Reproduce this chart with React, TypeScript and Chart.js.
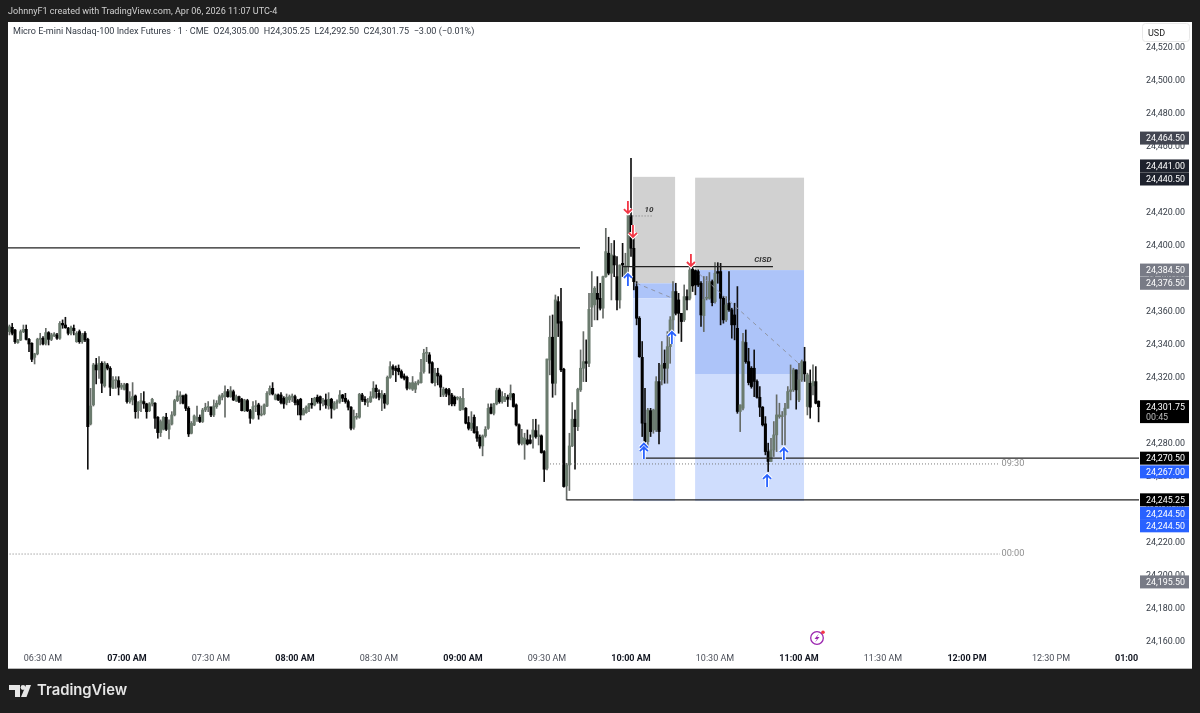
import React, { useEffect, useRef } from "react";
import { Chart, registerables } from "chart.js";

Chart.register(...registerables);

// Prices are stored as points above 24,000.
const PRICE_BASE = 24000;
const FIRST_MINUTE = -12; // minutes relative to 06:30 AM

const opens = [
347.2,349.8,348.2,340.5,342.1,347.2,348.6,342.5,340.1,331.6,
333.7,342.5,343.2,340.1,346.6,342.5,344.6,345.2,343.2,352.2,
351.2,349.2,346.2,349.2,341.1,347.2,341.1,346.2,342.5,291.2,
302.8,327,324,328,314.3,327,325,312.8,317.5,317.5,
313.5,312.2,315.5,304.8,305.8,308.2,299.3,304.2,304.8,303.4,
299.3,303.4,303.8,295.3,286,288,295.3,288,291.2,296.7,
305.4,307.8,308.2,308.8,300.7,285.6,290.6,294.1,295.3,292.7,
299.7,301.3,301.3,296.7,301.7,303.4,307.4,307.8,310.8,307.8,
310.8,305.4,307.8,306.2,299.3,305.4,299.3,294.7,301.7,302.8,
296.7,297.3,302.1,309.8,312.8,306.2,308.8,308.8,306.8,304.2,
305.8,307.4,307.8,305.4,306.2,296.7,298.1,300.7,303.8,302.8,
307.4,307.8,304.8,305.8,302.2,306.2,300.2,303.8,304.8,308.8,
306.8,304.8,301.4,289.2,295.3,295.3,308.8,306.2,304.2,304.8,
307.4,312.9,309.8,306.8,308.8,303.4,319.5,326,325,325,
323,320.3,319.5,312.9,312.3,312.3,315.9,316.3,323,334.1,
333.1,328.4,316.3,322,320.3,308.8,312.3,311.9,308.8,307.4,
306.8,299.7,300.2,300.7,292.1,288.6,295.3,286.6,283.2,277.9,
284,288.6,301.4,297.7,303.4,311.9,304.8,305.8,307.4,307.4,
309.4,302.8,290.7,279.5,279.1,281.6,281.6,283.2,287.2,283.6,
284,274.5,264.4,330,343.8,315.9,365.4,353.3,324.4,253.7,
266.4,277.9,294.1,289.6,311.9,325,329,328,362,363.4,
370.4,367.4,361.4,380.5,394.7,382.6,393.1,380.5,366.4,388.6,
380.5,386.6,417.5,397.7,374.5,355.3,331.6,291.7,280.5,299.3,
287.6,287.6,316.9,317.9,328,325,338.1,354.3,371.5,366.4,
358.3,354.3,368.4,367.4,385,384.2,383.6,376.5,356.9,367.4,
367.4,377.5,365.4,383.6,383.6,367.4,354.3,364.4,360.4,357.3,
349.2,298.8,300.8,340.6,329,325,325,317,307.4,301.4,
291.3,274.5,268.5,275.5,284.6,295.7,295.7,296.7,300.8,310.9,
311.9,324,305.8,318,329,301.8,315.9,314.3,316.9,305,
];
const closes = [
350.2,346.2,341.1,342.1,347.2,348.6,342.5,339.7,330.4,333.7,
342.5,343.2,339.7,346.6,342.5,345.2,345.8,343.2,352.2,351.2,
349.6,346.2,349.8,347.8,346.2,341.1,345.2,342.1,289.6,302.1,
327,324,328,315.9,328,325,313.5,317.5,317.9,313.5,
314.7,314.9,304.8,306.8,307.8,298.7,304.2,305.4,303.4,298.7,
303.4,306.2,294.7,286,292.7,295.3,288,291.2,296.7,305.4,
308.2,308.8,303.8,300.7,285.2,291.6,296.1,295.3,292.7,299.7,
301.3,301.7,296.7,302.1,303.8,307.8,308.8,310.8,307.8,311.4,
305.8,307.8,304.8,299.3,305.4,299.3,294.7,301.7,302.1,296.7,
297.3,302.8,309.8,312.8,309.4,308.8,305.8,304.2,303.4,307.4,
307.8,308.2,304.2,302.8,296.7,299.7,301.4,303.4,302.8,306.8,
304.8,303.8,304.8,302.8,306.2,300.7,303.8,304.8,308.8,306.8,
304.8,301.4,288.6,295.7,295.7,309.2,305.8,304.8,304.8,307.8,
312.9,310.8,307.4,309.4,303.8,319.5,326,324.4,323.6,323,
319.5,318.9,312.9,315.9,316.3,315.9,316.9,322.4,334.1,334.5,
328,316.3,322,320.3,313.5,312.3,309.8,308.8,303.4,303.4,
306.8,306.8,306.8,291.7,288.6,291.7,286,282.6,277.9,284,
288,300.7,297.7,303.4,311.5,304.8,307.8,307.8,306.2,309.8,
301.8,290.7,279.5,283.2,282.6,279.1,279.5,287.6,283.6,284.6,
273.9,263.8,330.6,343.8,315.9,366.4,352.3,324,253.3,266.4,
277.9,294.1,289.6,312.3,325,329,328,360.7,370.4,373.5,
366.8,361.4,380.5,395.7,382.6,393.7,387.6,366.4,387.6,387.6,
387,417.7,397.7,377.5,355.3,332,291.7,280.5,299.7,286.6,
299.7,316.9,286.6,327,325,338.1,354.3,371.5,358.3,358.3,
353.3,368.4,366.4,384.6,374.9,375.5,375.5,357.3,366.8,367.4,
377.5,364.8,382.6,382.6,367.4,354.3,363.4,360.4,351.3,351.3,
298.8,302.8,341.2,329,316.3,313.9,317,307.4,301.4,290.7,
274.5,268.5,275.5,284.6,296.7,296.7,296.1,300.8,310.9,311.9,
324,311.9,318,329,321.6,321,301.4,316.9,303.8,301.75,
];
const highs = [
351.2,352.2,348.6,342.5,348.2,351.2,351.2,343.2,340.5,334.1,
343.2,346.2,344.2,349.2,347.2,346.2,346.6,346.2,353.3,354.3,
355.9,349.8,350.6,351.2,347.2,348.2,346.2,347.2,343.2,312.8,
328,331,332,329,329,328,326,319.9,319.9,319.9,
315.9,315.9,315.9,310.8,316.3,308.8,304.8,309.8,310.8,303.8,
304.2,306.8,304.2,295.7,293.7,295.7,297.7,293.7,298.7,306.2,
311.4,310.8,308.8,309.4,301.7,292.7,296.7,302.1,296.7,300.7,
303.8,304.8,301.7,305.8,305.4,308.8,309.8,314.3,312.2,313.9,
311.8,308.8,308.2,306.8,306.2,306.2,300.1,304.8,305.4,303.8,
302.1,303.4,310.8,314.3,316.3,309.4,309.4,310.2,307.8,309.4,
308.8,309.4,308.8,306.2,306.8,300.7,302.2,303.8,306.8,307.4,
308.8,308.2,306.8,309.4,310.2,306.8,304.8,305.8,311.5,309.2,
309.8,305.8,301.8,299.7,297.7,309.8,309.8,307.8,306.8,310.8,
316.9,314.9,311.9,311.5,309.8,320.3,329,327,326.4,327,
324,321.6,320.3,316.3,320,316.9,317.9,330.4,336.5,337.7,
334.5,329,325,325,321,313.5,312.9,312.9,309.8,308.2,
307.8,307.8,312.9,301.2,295.7,298.7,296.7,289.6,284.6,284.6,
289.6,303.4,303.4,303.8,312.9,312.9,310.8,309.8,308.8,314.9,
309.8,303.4,291.3,288,285.6,287.6,284.6,294.1,294.1,290.7,
284.6,275.1,330.6,356.7,357.3,369.4,368.4,373.5,325,267.4,
285.6,304.2,299.7,312.9,336.1,347.2,342.2,370.4,383.6,374.5,
380.5,376.5,380.9,409.8,404.4,400.7,402.4,392.7,387.6,400.7,
394.7,417.7,452.3,404.4,377.5,356.3,341.2,312.9,300.7,300.7,
300.2,319.9,328,341.2,336.1,347.2,356.3,377.5,376.5,370.4,
358.3,375.5,372.5,387,387,384.6,384.6,377.5,380.6,380.6,
383,378.5,389,389,388.6,368.4,368.4,383.6,361.4,364.4,
374.5,302.8,346.2,348.2,337.1,326,336.1,318,313.9,301.8,
295.7,279.6,282.6,292.7,308.9,303.8,298.8,303.8,313.9,327,
325,324,328,330,337.7,322,324,327,326,305.25,
];
const lows = [
345.2,345.2,340.1,340.1,341.7,346.6,342.1,335.1,329,327.6,
333.1,339.1,339.1,339.1,339.1,341.7,344.2,342.5,342.5,349.2,
349.2,345.2,345.2,345.2,340.7,340.1,340.1,341.1,263.8,290.6,
302.1,315.5,318.9,310.2,313.5,324,308.4,312.8,312.8,308.8,
312.2,311.8,303.8,303.8,302.8,294.7,294.7,298.7,300.7,294.7,
298.7,302.1,288.6,282.6,283.6,287.6,287.2,282.1,290.6,296.1,
304.8,303.4,303.4,299.3,283.6,285.2,290.2,292.7,292.1,292.1,
298.7,298.7,295.7,295.7,300.7,302.8,305.8,295.3,307.4,307.4,
305.4,304.8,304.2,299.1,298.7,298.7,291.6,294.1,298.7,294.1,
296.1,296.7,301.7,308.8,308.8,305.8,305.4,303.4,300.7,302.8,
304.2,304.8,302.8,296.7,293.7,296.7,297.7,298.7,300.7,302.2,
303.8,299.7,302.2,300.7,300.2,294.7,299.7,300.7,303.8,304.8,
303.8,299.7,287.6,288,294.1,294.7,304.8,302.8,301.8,304.2,
306.8,306.8,305.8,299.3,300.7,302.8,318.9,321,316.9,321,
318.9,317.9,311.9,312.3,311.5,310.2,314.9,315.9,322,329,
322,315.9,314.3,314.9,307.8,307.8,307.8,302.8,302.2,302.2,
305.8,299.3,299.7,291.3,287.6,287.2,285.6,280.6,276.5,271.9,
283.2,288,297.3,296.7,302.8,303.8,303.8,304.8,301.8,305.8,
301.4,290,278.5,278.5,269.8,278.5,279.1,276.5,282.6,278.5,
273.5,256.3,263.4,321,307.4,308.8,344.2,323,252.9,245.2,
250.9,277.5,263.8,287.2,310.9,316.9,316.9,326,350.2,354.3,
354.3,360.3,355.3,380.1,381.6,366.4,380.5,360.3,361.4,380.5,
379.5,375.5,392.7,372.5,351.3,331.6,283.6,279.9,277.5,283.6,
285.6,286.6,279.1,314.9,315.9,315.9,328,347.2,357.3,346.2,
341.2,353.3,360.4,366.4,371.5,369.5,374.5,350.3,347.2,366.4,
366.8,362.8,364.4,376.5,351.3,352.3,353.3,359.4,343.2,342.2,
297.7,286.6,299.8,328,314.9,312.9,307.8,306.8,295.7,290,
272.5,262.4,268.5,271.5,274.5,294.7,278.6,278.6,300.8,305.8,
310.9,300.2,304.8,317,317,296.7,294.7,308.9,303.4,292.5,
];

// Time axis: value in minutes after 06:30 AM, with its label.
const timeTickValues = [0, 30, 60, 90, 120, 150, 180, 210, 240, 270, 300, 330, 360, 387];
const timeTickLabels = ["06:30 AM", "07:00 AM", "07:30 AM", "08:00 AM", "08:30 AM", "09:00 AM", "09:30 AM", "10:00 AM", "10:30 AM", "11:00 AM", "11:30 AM", "12:00 PM", "12:30 PM", "01:00"];
const timeTickBold = [false, true, false, true, false, true, false, true, false, true, false, true, false, true];

// Position tool boxes: [fromMinute, toMinute, topPrice, bottomPrice, fill]
const zoneBoxes: [number, number, number, number, string][] = [
  [210.75, 225.75, 24441, 24376.5, "#d1d1d1"],
  [210.75, 225.75, 24376.5, 24367.4, "#adc4f9"],
  [210.75, 225.75, 24367.4, 24244.5, "#cfddfd"],
  [232.9, 271.8, 24440.5, 24384.5, "#d1d1d1"],
  [232.9, 271.8, 24384.5, 24321.5, "#adc4f9"],
  [232.9, 271.8, 24321.5, 24244.5, "#cfddfd"],
];
// Solid levels: [fromMinute, toMinute, price]
const solidLevels: [number, number, number][] = [
  [-13, 191.8, 24397.9],
  [187, 392, 24245.25],
  [215, 392, 24270.5],
  [206.8, 260.7, 24386.6],
];
// Dotted levels: [fromMinute, toMinute, price]
const dottedLevels: [number, number, number][] = [
  [180, 341.8, 24267],
  [-13, 341.8, 24212.4],
  [209.5, 217.5, 24417.3],
];
// Dashed diagonals: [m1, p1, m2, p2]
const dashedDiagonals: [number, number, number, number][] = [
  [212, 24376.5, 224, 24368],
  [234.5, 24382, 270.5, 24327],
];
// Text notes: [minute, price, text, font, colour]
const notes: [number, number, string, string, string][] = [
  [216.4, 24420.8, "10", "italic bold 8px Roboto", "#333"],
  [257.1, 24390.6, "CISD", "italic bold 8px Roboto", "#333"],
  [346.4, 24267, "09:30", "9.2px Roboto", "#8f8f8f"],
  [346.4, 24212.4, "00:00", "9.2px Roboto", "#8f8f8f"],
];
const redArrows: [number, number][] = [[208.9, 24422.7], [210.7, 24408.2], [231.4, 24390.6]];
const blueArrows: [number, number, boolean][] = [
  [208.9, 24378.5, false],
  [214.6, 24273.6, true],
  [224.6, 24343.4, false],
  [264.6, 24273, false],
  [258.6, 24256.7, false],
];
// Price-axis tags: [text, centre price, fill, text colour]
const axisTags: [string, number, string, string][] = [
  ["24,464.50", 24464.5, "#434651", "#fff"],
  ["24,441.00", 24447.6, "#1e222d", "#fff"],
  ["24,440.50", 24439.7, "#1e222d", "#fff"],
  ["24,384.50", 24384.5, "#787b86", "#fff"],
  ["24,376.50", 24376.5, "#787b86", "#fff"],
  ["24,270.50", 24270.5, "#000000", "#fff"],
  ["24,267.00", 24262.2, "#2962ff", "#fff"],
  ["24,245.25", 24245.25, "#000000", "#fff"],
  ["24,244.50", 24237.1, "#2962ff", "#fff"],
  ["24,244.50", 24229.5, "#2962ff", "#fff"],
  ["24,195.50", 24195.5, "#787b86", "#fff"],
];
const lastPriceLabel = "24,301.75";
const lastPriceValue = 24301.75;
const countdownLabel = "00:45";
const attribution = "JohnnyF1 created with TradingView.com, Apr 06, 2026 11:07 UTC-4";
const legendText = "Micro E-mini Nasdaq-100 Index Futures · 1 · CME  O24,305.00  H24,305.25  L24,292.50  C24,301.75  −3.00 (−0.01%)";

const UI = "Roboto";
const isBold = (ctx: any) => !!ctx.tick && timeTickBold[timeTickValues.indexOf(ctx.tick.value)];

const chrome = {
  id: "chrome",
  beforeDraw(chart: any) {
    const c = chart.ctx;
    c.save();
    c.fillStyle = "#1e1e1e";
    c.fillRect(0, 0, 1200, 713);
    c.fillStyle = "#ffffff";
    c.fillRect(8, 22, 1184, 646);
    c.fillStyle = "#b8b8b8";
    c.fillRect(8, 668, 1184, 1);
    c.restore();
  },
  beforeDatasetsDraw(chart: any) {
    const c = chart.ctx, X = chart.scales.x, Y = chart.scales.y;
    c.save();
    for (const [a, b, t, d, f] of zoneBoxes) {
      c.fillStyle = f;
      const x = X.getPixelForValue(a), y = Y.getPixelForValue(t);
      c.fillRect(x, y, X.getPixelForValue(b) - x, Y.getPixelForValue(d) - y);
    }
    c.restore();
  },
  afterDatasetsDraw(chart: any) {
    const c = chart.ctx, X = chart.scales.x, Y = chart.scales.y, A = chart.chartArea;
    c.save();
    c.beginPath();
    c.rect(A.left, A.top, A.right - A.left, A.bottom - A.top);
    c.clip();
    c.strokeStyle = "#222";
    c.lineWidth = 1.25;
    for (const [a, b, p] of solidLevels) {
      const y = Y.getPixelForValue(p);
      c.beginPath();
      c.moveTo(X.getPixelForValue(a), y);
      c.lineTo(X.getPixelForValue(b), y);
      c.stroke();
    }
    c.lineWidth = 1;
    c.strokeStyle = "#7a7a7a";
    c.setLineDash([1, 2]);
    for (const [a, b, p] of dottedLevels) {
      const y = Y.getPixelForValue(p);
      c.beginPath();
      c.moveTo(X.getPixelForValue(a), y);
      c.lineTo(X.getPixelForValue(b), y);
      c.stroke();
    }
    c.strokeStyle = "#8f95a5";
    c.setLineDash([4, 4]);
    for (const [m1, p1, m2, p2] of dashedDiagonals) {
      c.beginPath();
      c.moveTo(X.getPixelForValue(m1), Y.getPixelForValue(p1));
      c.lineTo(X.getPixelForValue(m2), Y.getPixelForValue(p2));
      c.stroke();
    }
    c.setLineDash([]);
    c.textAlign = "center";
    c.textBaseline = "middle";
    for (const [m, p, t, f, col] of notes) {
      c.font = f;
      c.fillStyle = col;
      c.fillText(t, X.getPixelForValue(m), Y.getPixelForValue(p));
    }
    const arrow = (x: number, y: number, dir: number, col: string, dbl: boolean) => {
      const shape = () => {
        c.beginPath();
        c.moveTo(x, y + dir * 6);
        c.lineTo(x, y - dir * 6);
        c.moveTo(x - 4, y - dir * 2);
        c.lineTo(x, y - dir * 6);
        c.lineTo(x + 4, y - dir * 2);
        if (dbl) {
          c.moveTo(x - 4, y - dir * 5.5);
          c.lineTo(x, y - dir * 9.5);
          c.lineTo(x + 4, y - dir * 5.5);
        }
        c.stroke();
      };
      c.strokeStyle = "#ffffff";
      c.lineWidth = 3.8;
      shape();
      c.strokeStyle = col;
      c.lineWidth = 1.8;
      shape();
    };
    for (const [m, p] of redArrows) arrow(X.getPixelForValue(m), Y.getPixelForValue(p), -1, "#f23645", false);
    for (const [m, p, d] of blueArrows) arrow(X.getPixelForValue(m), Y.getPixelForValue(p), 1, "#2962ff", d);
    c.restore();
  },
  afterDraw(chart: any) {
    const c = chart.ctx, Y = chart.scales.y;
    c.save();
    // text header
    c.textBaseline = "middle";
    c.textAlign = "left";
    c.font = `9.05px ${UI}`;
    c.fillStyle = "#d0d0d0";
    c.fillText(attribution, 8, 11.5);
    c.fillStyle = "#333a44";
    c.fillText(legendText, 13, 31.5);

    // USD button
    c.fillStyle = "#fff";
    c.strokeStyle = "#e8e8e8";
    c.beginPath();
    c.roundRect(1142.5, 23.5, 47, 18, 3);
    c.fill();
    c.stroke();
    c.fillStyle = "#222";
    c.font = `9px ${UI}`;
    c.fillText("USD", 1148, 33.5);

    // price tags
    c.font = `8.9px ${UI}`;
    for (const [t, p, f, col] of axisTags) {
      const y = Y.getPixelForValue(p);
      c.fillStyle = f;
      c.fillRect(1140, y - 6.5, 49, 13);
      c.fillStyle = col;
      c.fillText(t, 1146, y + 1);
    }
    const ly = Y.getPixelForValue(lastPriceValue);
    c.fillStyle = "#000";
    c.fillRect(1140, ly - 6.5, 49, 23);
    c.fillStyle = "#fff";
    c.fillText(lastPriceLabel, 1146, ly + 1);
    c.fillStyle = "#bdbdbd";
    c.fillText(countdownLabel, 1146, ly + 11);

    // lightning badge
    c.strokeStyle = "#9c27b0";
    c.lineWidth = 1.3;
    c.beginPath();
    c.arc(817, 638, 6.3, 0, Math.PI * 2);
    c.stroke();
    c.fillStyle = "#9c27b0";
    c.beginPath();
    c.moveTo(819, 633.5);
    c.lineTo(814.5, 639);
    c.lineTo(817, 639);
    c.lineTo(815, 642.5);
    c.lineTo(819.5, 637);
    c.lineTo(817, 637);
    c.closePath();
    c.fill();
    c.fillStyle = "#f23645";
    c.beginPath();
    c.arc(823, 632.3, 1.8, 0, Math.PI * 2);
    c.fill();

    // TradingView logo
    c.fillStyle = "#e6e6e6";
    c.beginPath();
    c.moveTo(9, 685);
    c.lineTo(20, 685);
    c.lineTo(20, 697);
    c.lineTo(15, 697);
    c.lineTo(15, 690);
    c.lineTo(9, 690);
    c.closePath();
    c.fill();
    c.beginPath();
    c.arc(23, 687.5, 2.4, 0, Math.PI * 2);
    c.fill();
    c.beginPath();
    c.moveTo(26, 685);
    c.lineTo(31, 685);
    c.lineTo(26.5, 697);
    c.lineTo(21, 697);
    c.closePath();
    c.fill();
    c.font = "600 14.8px Inter";
    c.fillText("TradingView", 37, 691);
    c.restore();
  },
};

export default function App() {
  const ref = useRef<HTMLCanvasElement | null>(null);
  useEffect(() => {
    document.body.style.margin = "0";
    document.body.style.background = "#1e1e1e";
    const minutes = opens.map((_, i) => FIRST_MINUTE + i);
    const isUp = opens.map((o, i) => closes[i] >= o);
    const chart = new Chart(ref.current as HTMLCanvasElement, {
      type: "bar",
      data: {
        datasets: [
          {
            label: "Body",
            data: minutes.map((m, i) => ({ x: m, y: [PRICE_BASE + opens[i], PRICE_BASE + closes[i]] })) as any,
            backgroundColor: isUp.map((u) => (u ? "#6b7b6e" : "#000000")),
            barThickness: 2.4,
            minBarLength: 1,
            grouped: false,
            order: 1,
          },
          {
            label: "Wick",
            data: minutes.map((m, i) => ({ x: m, y: [PRICE_BASE + lows[i], PRICE_BASE + highs[i]] })) as any,
            backgroundColor: isUp.map((u) => (u ? "#666b67" : "#111111")),
            barThickness: 1,
            grouped: false,
            order: 2,
          },
        ],
      },
      options: {
        responsive: false,
        animation: false,
        layout: { padding: { left: 8, right: 8, top: 22, bottom: 45 } },
        plugins: { legend: { display: false }, tooltip: { enabled: false } },
        events: [],
        scales: {
          x: {
            type: "linear",
            offset: false,
            min: -12.5,
            max: 391.43,
            grid: { display: false, drawTicks: false },
            border: { display: false },
            afterFit(s: any) { s.height = 20; },
            afterBuildTicks(s: any) { s.ticks = timeTickValues.map((value) => ({ value })); },
            ticks: {
              autoSkip: false,
              maxRotation: 0,
              padding: 5,
              color: (ctx: any) => (isBold(ctx) ? "#131722" : "#4a4e58"),
              font: (ctx: any) => ({ family: "Roboto", size: 9, weight: isBold(ctx) ? "bold" : "normal" }),
              callback: (v: any) => timeTickLabels[timeTickValues.indexOf(v)],
            },
          },
          y: {
            type: "linear",
            position: "right",
            min: 24155.45,
            max: 24534.85,
            grid: { display: false, drawTicks: false },
            border: { display: false },
            afterFit(s: any) { s.width = 53; },
            ticks: {
              stepSize: 20,
              includeBounds: false,
              autoSkip: false,
              padding: 7,
              labelOffset: 1,
              color: "#333a44",
              font: { family: "Roboto", size: 8.9 },
              callback: (v: any) => Number(v).toLocaleString("en-US", { minimumFractionDigits: 2, maximumFractionDigits: 2 }),
            },
          },
        },
      } as any,
      plugins: [chrome],
    });
    return () => chart.destroy();
  }, []);
  return <canvas ref={ref} width={1200} height={713} style={{ display: "block", position: "fixed", left: 0, top: 0 }} />;
}
